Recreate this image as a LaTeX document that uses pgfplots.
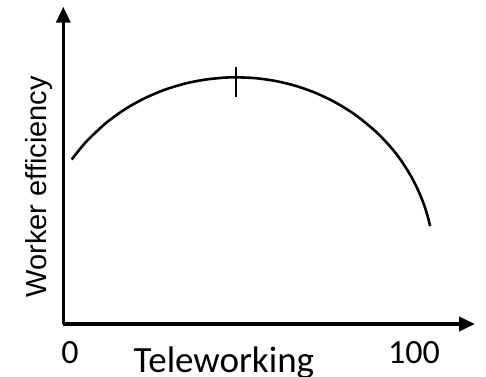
\documentclass[border=0pt]{standalone}
\usepackage{fontspec}
\setmainfont{Carlito}
\newfontfamily\arialfont{Liberation Sans}
\usepackage{pgfplots}
\pgfplotsset{compat=1.18}
\usetikzlibrary{arrows.meta}
\begin{document}
\begin{tikzpicture}
\begin{axis}[
  at={(63.3pt,52pt)}, anchor=south west,
  scale only axis,
  width=411.7pt, height=317.3pt,
  xmin=0, xmax=117.6, ymin=0, ymax=317.3,
  axis lines=left,
  axis line style={line width=3.6pt, -{Triangle[length=16pt,width=14pt]}},
  xtick={1.9,100.2}, xticklabels={0,100},
  ytick=\empty,
  major tick length=0pt,
  xticklabel style={font=\fontsize{34}{40}\selectfont, anchor=north, inner sep=0pt, yshift=-17.7pt},
  xlabel={Teleworking},
  xlabel style={at={(axis description cs:0.390,0)}, anchor=north, inner sep=0pt, yshift=-22.7pt, font=\fontsize{37}{42}\selectfont},
  ylabel={Worker efficiency},
  ylabel style={at={(axis description cs:0,0.432)}, anchor=south, inner sep=0pt, yshift=11pt, font=\arialfont\fontsize{29}{34}\selectfont},
  clip=false,
]
\addplot[black, line width=2.6pt, smooth] coordinates {
  (2.40,164.5) (6.49,182.1) (12.2,201.0) (17.91,215.4) (23.63,226.4)
  (29.34,234.7) (35.06,240.7) (40.77,244.5) (46.49,246.5) (49.34,246.7)
  (55.06,245.8) (60.77,242.9) (66.49,238.0) (72.2,230.9) (77.91,221.2)
  (83.63,208.6) (89.34,192.2) (93.63,176.4) (96.49,163.5) (99.34,147.7)
  (101.34,133.9) (103.06,119.1) (104.2,106.1) (104.77,97.9)
};
\addplot[black, line width=2.6pt] coordinates {(49.34,257) (49.34,227)};
\end{axis}
\pgfresetboundingbox
\path (0,0) rectangle (486pt,376pt);
\end{tikzpicture}
\end{document}
